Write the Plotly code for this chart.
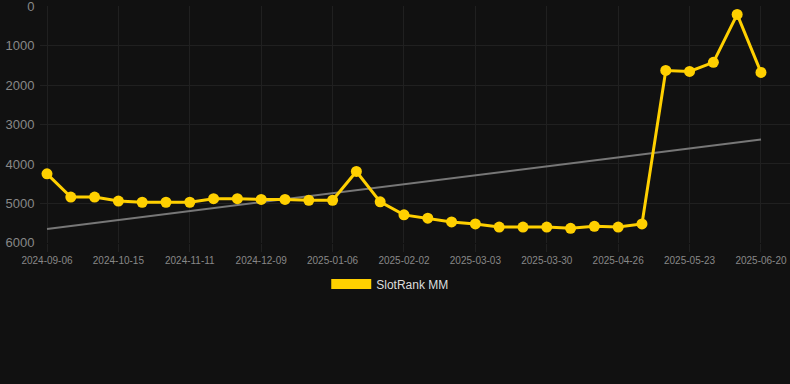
import plotly.graph_objects as go

dates = [
    "2024-09-06", "2024-09-19", "2024-10-02", "2024-10-15", "2024-10-24", "2024-11-02",
    "2024-11-11", "2024-11-20", "2024-11-29", "2024-12-09", "2024-12-18", "2024-12-27",
    "2025-01-06", "2025-01-15", "2025-01-24", "2025-02-02", "2025-02-12", "2025-02-21",
    "2025-03-03", "2025-03-12", "2025-03-21", "2025-03-30", "2025-04-08", "2025-04-17",
    "2025-04-26", "2025-05-05", "2025-05-14", "2025-05-23", "2025-06-01", "2025-06-10",
    "2025-06-20",
]
rank = [
    4250, 4840, 4840, 4940, 4970, 4970, 4970, 4880, 4880, 4900, 4900, 4920, 4920,
    4190, 4960, 5290, 5375, 5470, 5520, 5600, 5600, 5600, 5630, 5580, 5600, 5520,
    1630, 1655, 1425, 210, 1680,
]
trend_x = [dates[0], dates[-1]]
trend_y = [5650, 3380]
tick_labels = dates[::3]
y_ticks = [0, 1000, 2000, 3000, 4000, 5000, 6000]

gold = "#FFD000"
fig = go.Figure()
fig.add_trace(go.Scatter(
    x=trend_x, y=trend_y, mode="lines",
    line=dict(color="#777777", width=2), showlegend=False, hoverinfo="skip",
))
fig.add_trace(go.Scatter(
    x=dates, y=rank, mode="lines+markers",
    line=dict(color=gold, width=3), marker=dict(color=gold, size=11),
    showlegend=False,
))
fig.add_trace(go.Scatter(
    x=[dates[0]], y=[None], mode="lines", name="SlotRank MM",
    line=dict(color=gold, width=10), showlegend=True,
))

fig.update_layout(
    width=790, height=384,
    margin=dict(l=40, r=0, t=6, b=141),
    paper_bgcolor="#111111", plot_bgcolor="#111111",
    font=dict(family="Liberation Sans, Arial, sans-serif", color="#888888"),
    legend=dict(
        orientation="h", x=0.467, xanchor="center", y=-0.173, yanchor="middle",
        font=dict(size=12, color="#dddddd"), itemwidth=40,
        bgcolor="rgba(0,0,0,0)",
    ),
)
fig.update_xaxes(
    type="category", categoryorder="array", categoryarray=dates,
    range=[-0.294, 31.22],
    tickmode="array", tickvals=tick_labels, ticktext=tick_labels,
    tickfont=dict(size=10, color="#888888"),
    showgrid=True, gridcolor="#202020", gridwidth=1,
    ticks="outside", ticklen=8, tickcolor="#202020",
    zeroline=False, showline=False,
)
fig.update_yaxes(
    range=[6003, -3], tickvals=y_ticks,
    tickfont=dict(size=13, color="#888888"),
    ticklabeloverflow="allow",
    showgrid=True, gridcolor="#202020", gridwidth=1,
    zeroline=False, showline=False, ticklen=2, ticks="outside", tickcolor="#111111",
)
fig.write_html(
    "out.html",
    config={"displayModeBar": False},
    post_script="document.body.style.margin='0';document.body.style.background='#111111';",
)
